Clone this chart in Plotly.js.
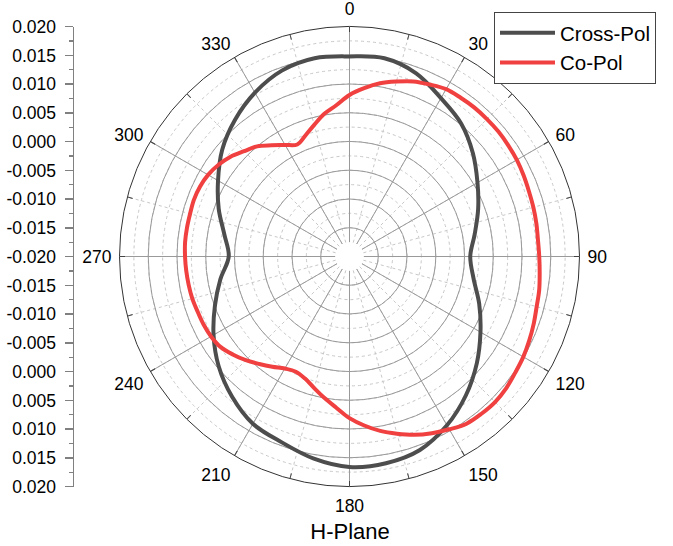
<!DOCTYPE html>
<html>
<head>
<meta charset="utf-8">
<script src="https://cdn.plot.ly/plotly-3.0.1.min.js"></script>
<style>html,body{margin:0;padding:0;background:#fff;}#chart{width:673px;height:546px;}</style>
</head>
<body>
<div id="chart"></div>
<script>
// ---- data ----
const crossTheta = [0,10,20,30,40,50,60,70,80,90,100,110,120,130,140,150,160,170,180,190,200,210,220,230,240,250,260,270,280,290,300,310,320,330,340,350,360];
const crossPol = [0.0148,0.0150,0.0139,0.0118,0.0102,0.0080,0.0057,0.0038,0.0021,0.0010,0.0019,0.0040,0.0063,0.0089,0.0115,0.0139,0.0158,0.0165,0.0166,0.0157,0.0144,0.0136,0.0118,0.0097,0.0073,0.0049,0.0028,0.0010,0.0021,0.0042,0.0064,0.0089,0.0110,0.0129,0.0144,0.0150,0.0148];

const coTheta = [0,5,10,15,20,25,30,35,40,45,50,55,60,65,70,75,80,85,90,95,100,105,110,115,120,125,130,135,140,145,150,155,160,165,170,175,180,185,190,195,200,205,210,215,220,225,230,235,240,245,250,255,260,265,270,275,280,285,290,295,300,305,310,315,320,325,330,335,340,345,350,355,360];
const coPol = [0.0081,0.0094,0.0106,0.0115,0.0124,0.0130,0.0136,0.0137,0.0138,0.0138,0.0138,0.0137,0.0136,0.0134,0.0132,0.0131,0.0130,0.0129,0.0130,0.0132,0.0135,0.0137,0.0141,0.0145,0.0149,0.0152,0.0156,0.0158,0.0157,0.0155,0.0147,0.0139,0.0130,0.0119,0.0108,0.0095,0.0081,0.0064,0.0050,0.0037,0.0026,0.0021,0.0025,0.0034,0.0044,0.0055,0.0065,0.0074,0.0078,0.0080,0.0081,0.0083,0.0084,0.0085,0.0086,0.0087,0.0087,0.0087,0.0088,0.0087,0.0084,0.0078,0.0070,0.0059,0.0050,0.0036,0.0024,0.0015,0.0024,0.0037,0.0052,0.0064,0.0081];

const seriesNames = ['Cross-Pol', 'Co-Pol'];
const angularTickLabels = [0,30,60,90,120,150,180,210,240,270,300,330];
const radialTickValues = [-0.020,-0.015,-0.010,-0.005,0.000,0.005,0.010,0.015,0.020];
const titleText = 'H-Plane';

// ---- derived helpers ----
const rMin = radialTickValues[0];
const rMax = radialTickValues[radialTickValues.length - 1];
const yLow = 2*rMin - rMax;
// left mirrored axis: upper half y = v, lower half y = 2*rMin - v
const yTickVals = [], yTickText = [];
radialTickValues.forEach(v => { yTickVals.push(v); yTickText.push(v.toFixed(3)); });
radialTickValues.slice(1).forEach(v => { yTickVals.push(2*rMin - v); yTickText.push(v.toFixed(3)); });
const minorVals = [];
for (let k = 1; k < 32; k += 2) minorVals.push(+(yLow + 0.0025*k).toFixed(5));

const FONT = 'Arial, "Liberation Sans", sans-serif';
const W = 673, H = 546;
const cx = 349.5, cy = 256.5, R = 230;
const holePx = 14.4;
const hole = holePx / R;
const rStart = rMin + 0.0025;

const dummyPolar = sp => ({type:'scatterpolar', subplot:sp, theta:[0], r:[rStart], mode:'lines',
                          showlegend:false, hoverinfo:'skip', line:{width:0}});
const traces = [
  dummyPolar('polar'),
  {type:'scatterpolar', subplot:'polar2', name: seriesNames[0], theta: crossTheta, r: crossPol,
   mode:'lines', line:{color:'#4d4d4d', width:4, shape:'spline', smoothing:1}, hoverinfo:'skip'},
  {type:'scatterpolar', subplot:'polar2', name: seriesNames[1], theta: coTheta, r: coPol,
   mode:'lines', line:{color:'#f04040', width:4, shape:'spline', smoothing:1}, hoverinfo:'skip'},
  dummyPolar('polar3'),
  {type:'scatter', x:[0], y:[rMin], mode:'lines', showlegend:false, hoverinfo:'skip', xaxis:'x', yaxis:'y'}
];

const polarDomain = {x:[(cx-R)/W, (cx+R)/W], y:[1-(cy+R)/H, 1-(cy-R)/H]};
const baseAng = {rotation:90, direction:'clockwise'};

const layout = {
  width: W, height: H,
  margin: {l:0, r:0, t:0, b:0},
  paper_bgcolor:'#fff', plot_bgcolor:'rgba(0,0,0,0)',
  font: {family: FONT, color:'#000', size:17},
  showlegend: true,
  legend: {x: 494/W, y: 1-12/H, xanchor:'left', yanchor:'top', bordercolor:'#444', borderwidth:1,
           bgcolor:'#fff', font:{size:20.5, family:FONT, color:'#000'}, itemwidth:55, tracegroupgap:0},
  title: {text: titleText, x: 350/W, xanchor:'center', y: 1-531/H, yanchor:'middle',
          font:{size:22, family:FONT, color:'#000'}},
  xaxis: {domain:[74/W, 80/W], range:[0,1], visible:false, fixedrange:true},
  yaxis: {domain:[1-486.7/H, 1-26.7/H], range:[yLow, rMax], tickmode:'array',
          tickvals: yTickVals, ticktext: yTickText, showline:true, linecolor:'#808080', linewidth:1.5,
          ticks:'outside', ticklen:8, tickwidth:1.5, tickcolor:'#808080', showgrid:false, zeroline:false,
          tickfont:{size:17.5, family:FONT, color:'#000'}, ticklabelstandoff:5,
          minor:{tickmode:'array', tickvals:minorVals, ticks:'outside', ticklen:4, tickwidth:1.2, tickcolor:'#808080', showgrid:false}},
  polar: {
    domain: polarDomain, hole: hole, bgcolor:'#fff',
    radialaxis: {range:[rStart, rMax], tickmode:'linear', tick0:0, dtick:0.0025, showgrid:true,
                 gridcolor:'#c8c8c8', griddash:'3px,3px', gridwidth:1, showline:false, showticklabels:false, ticks:''},
    angularaxis: Object.assign({}, baseAng, {tickmode:'linear', tick0:0, dtick:15, showline:false,
                  showgrid:true, gridcolor:'#c8c8c8', griddash:'3px,3px', gridwidth:1, ticks:'', showticklabels:false})
  },
  polar2: {
    domain: polarDomain, hole: hole, bgcolor:'rgba(0,0,0,0)',
    radialaxis: {range:[rStart, rMax], tickmode:'linear', tick0:0, dtick:0.005, showgrid:true,
                 gridcolor:'#9a9a9a', gridwidth:1, showline:false, showticklabels:false, ticks:''},
    angularaxis: Object.assign({}, baseAng, {tickmode:'array', tickvals: angularTickLabels,
                  ticktext: angularTickLabels.map(String), showgrid:true, gridcolor:'#9a9a9a', gridwidth:1,
                  showline:false, ticks:'outside', ticklen:4, tickcolor:'rgba(0,0,0,0)',
                  tickfont:{size:17.5, family:FONT, color:'#000'}})
  },
  polar3: {
    domain: polarDomain, hole: 0, bgcolor:'rgba(0,0,0,0)',
    radialaxis: {range:[rMin, rMax], showgrid:false, showline:false, showticklabels:false, ticks:''},
    angularaxis: Object.assign({}, baseAng, {tickmode:'linear', tick0:0, dtick:15, showgrid:false,
                  showline:true, linecolor:'#333', linewidth:1,
                  ticks:'inside', ticklen:5, tickcolor:'#444', tickwidth:1, showticklabels:false})
  }
};

Plotly.newPlot('chart', traces, layout, {staticPlot:true, displayModeBar:false});
</script>
</body>
</html>
